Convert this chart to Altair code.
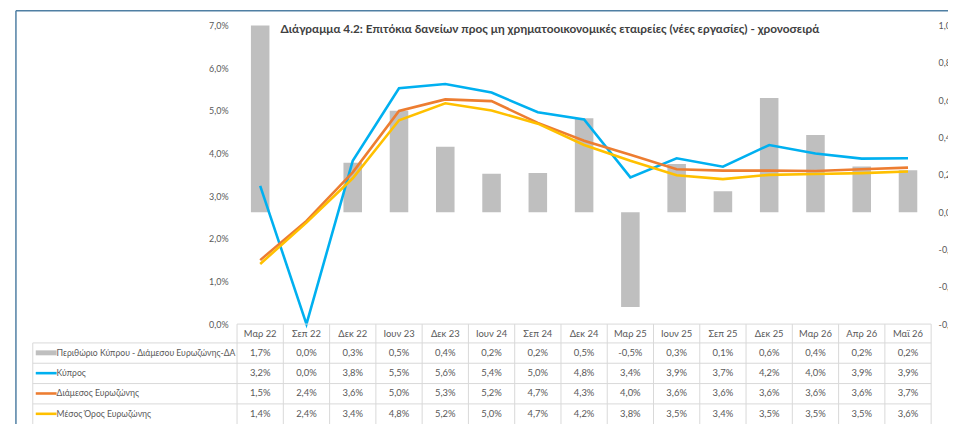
import altair as alt
import pandas as pd

# ---------------- data ----------------
categories = ["Μαρ 22", "Σεπ 22", "Δεκ 22", "Ιουν 23", "Δεκ 23", "Ιουν 24", "Σεπ 24",
              "Δεκ 24", "Μαρ 25", "Ιουν 25", "Σεπ 25", "Δεκ 25", "Μαρ 26", "Απρ 26", "Μαϊ 26"]
margin = [1.70, 0.00, 0.265, 0.543, 0.351, 0.206, 0.21, 0.504, -0.508, 0.258, 0.112,
          0.612, 0.414, 0.245, 0.224]
cyprus = [3.24, 0.00, 3.83, 5.53, 5.63, 5.43, 4.97, 4.80, 3.44, 3.89, 3.69, 4.20, 4.00, 3.88, 3.89]
median = [1.50, 2.42, 3.56, 5.00, 5.27, 5.23, 4.72, 4.30, 3.97, 3.63, 3.60, 3.60, 3.59, 3.63, 3.67]
mean = [1.41, 2.38, 3.42, 4.78, 5.18, 5.01, 4.70, 4.20, 3.83, 3.49, 3.40, 3.50, 3.52, 3.54, 3.58]
series_names = ["Περιθώριο Κύπρου - Διάμεσου Ευρωζώνης-ΔΑ", "Κύπρος",
                "Διάμεσος Ευρωζώνης", "Μέσος Όρος Ευρωζώνης"]
left_ticks = [0, 1, 2, 3, 4, 5, 6, 7]
right_ticks = [-0.6, -0.4, -0.2, 0.0, 0.2, 0.4, 0.6, 0.8, 1.0]
title_text = ("Διάγραμμα 4.2: Επιτόκια δανείων προς μη χρηματοοικονομικές εταιρείες "
              "(νέες εργασίες) - χρονοσειρά")


def pct(v):
    s = f"{abs(v):.1f}".replace(".", ",") + "%"
    return ("-" + s) if v < 0 and round(abs(v), 1) > 0 else s


df = pd.DataFrame({
    "cat": categories,
    "margin": margin,
    "cyprus": cyprus,
    "median": median,
    "mean": mean,
})
df["margin_lbl"] = [pct(v) for v in margin]
df["cyprus_lbl"] = [pct(v) for v in cyprus]
df["median_lbl"] = [pct(v) for v in median]
df["mean_lbl"] = [pct(v) for v in mean]

# ---------------- styles ----------------
W, H = 700, 301
FONT = "Lato"
TXT = "#595959"
GRID = "#D9D9D9"
C_BAR = "#BFBFBF"
C_CY = "#00B0F0"
C_MED = "#ED7D31"
C_MEAN = "#FFC000"
FRAME = "#4F7FA3"

row_lines = [320, 340.5, 361, 381.5]
row_centers = [330, 350.5, 371, 391.5]
header_y = 311
table_left = -206
legend_key_x0, legend_key_x1 = -203, -182
legend_text_x = -182

label_expr = ("(datum.value < -0.0001 ? '-' : '') + "
              "replace(format(abs(datum.value), '.1f'), '.', ',') + '%'")

xscale = alt.Scale(type="band", paddingInner=0, paddingOuter=0)
x_enc = alt.X("cat:N", sort=categories, scale=xscale, axis=None)

base = alt.Chart(df)

bars = base.mark_bar(size=18.7, color=C_BAR, clip=True).encode(
    x=x_enc,
    y=alt.Y("margin:Q",
            scale=alt.Scale(domain=[-0.6, 1.0], nice=False, zero=False),
            axis=alt.Axis(orient="right", values=right_ticks, labelExpr=label_expr,
                          domain=False, ticks=False, grid=False, labelPadding=7,
                          labelColor=TXT, labelFont=FONT, labelFontSize=9, title=None)),
)

yscale_l = alt.Scale(domain=[0, 7], nice=False)
left_axis = alt.Axis(orient="left", values=left_ticks, labelExpr=label_expr,
                     domain=False, ticks=False, grid=False, labelPadding=9,
                     labelColor=TXT, labelFont=FONT, labelFontSize=9, title=None)
line_cy = base.mark_line(color=C_CY, strokeWidth=2.6).encode(
    x=x_enc, y=alt.Y("cyprus:Q", scale=yscale_l, axis=left_axis))
line_med = base.mark_line(color=C_MED, strokeWidth=2.6).encode(
    x=x_enc, y=alt.Y("median:Q", scale=yscale_l, axis=left_axis))
line_mean = base.mark_line(color=C_MEAN, strokeWidth=2.6).encode(
    x=x_enc, y=alt.Y("mean:Q", scale=yscale_l, axis=left_axis))
lines = alt.layer(line_cy, line_med, line_mean)

one = alt.Chart(pd.DataFrame({"k": [0]}))

# table grid
vlines = base.mark_rule(color=GRID, strokeWidth=1).encode(
    x=alt.X("cat:N", sort=categories, scale=xscale, axis=None, bandPosition=0),
    y=alt.value(H), y2=alt.value(H + 110))
decor = [vlines,
         one.mark_rule(color=GRID, strokeWidth=1).encode(
             x=alt.value(W), y=alt.value(H), y2=alt.value(H + 110)),
         one.mark_rule(color=GRID, strokeWidth=1).encode(
             x=alt.value(table_left), y=alt.value(row_lines[0]), y2=alt.value(H + 110)),
         one.mark_rule(color=GRID, strokeWidth=1).encode(
             x=alt.value(0), x2=alt.value(W), y=alt.value(H)),
         ]
for ry in row_lines:
    decor.append(one.mark_rule(color=GRID, strokeWidth=1).encode(
        x=alt.value(table_left), x2=alt.value(W), y=alt.value(ry)))

# frame
decor.append(one.mark_rule(color=FRAME, strokeWidth=1.5).encode(
    x=alt.value(-223), x2=alt.value(W + 40), y=alt.value(-15)))
decor.append(one.mark_rule(color=FRAME, strokeWidth=1.5).encode(
    x=alt.value(-223), y=alt.value(-15), y2=alt.value(H + 110)))

# header labels
texts = [base.mark_text(font=FONT, fontSize=9.5, color=TXT, baseline="middle").encode(
    x=x_enc, y=alt.value(header_y), text="cat:N")]
# table values
for col, ry in zip(["margin_lbl", "cyprus_lbl", "median_lbl", "mean_lbl"], row_centers):
    texts.append(base.mark_text(font=FONT, fontSize=9.5, color=TXT, baseline="middle").encode(
        x=x_enc, y=alt.value(ry), text=f"{col}:N"))

# legend column
key_colors = [C_BAR, C_CY, C_MED, C_MEAN]
key_widths = [5, 2.6, 2.6, 2.6]
for name, ry, kc, kw in zip(series_names, row_centers, key_colors, key_widths):
    texts.append(one.mark_rule(color=kc, strokeWidth=kw).encode(
        x=alt.value(legend_key_x0), x2=alt.value(legend_key_x1), y=alt.value(ry)))
    texts.append(alt.Chart(pd.DataFrame({"name": [name]})).mark_text(
        font=FONT, fontSize=8.7, color=TXT, align="left", baseline="middle").encode(
        x=alt.value(legend_text_x), y=alt.value(ry), text="name:N"))

# title
texts.append(alt.Chart(pd.DataFrame({"t": [title_text]})).mark_text(
    font=FONT, fontSize=11.9, fontWeight="bold", color="#404040", align="center",
    baseline="middle").encode(x=alt.value(315.5), y=alt.value(3), text="t:N"))

chart = alt.layer(bars, lines, *decor, *texts).resolve_scale(y="independent").properties(
    width=W, height=H,
    autosize=alt.AutoSizeParams(type="none"),
    padding={"left": 231, "top": 16, "right": 17, "bottom": 99},
    background="white",
).configure_view(stroke=None)

chart.save("out.html", embed_options={"renderer": "svg", "actions": False})
